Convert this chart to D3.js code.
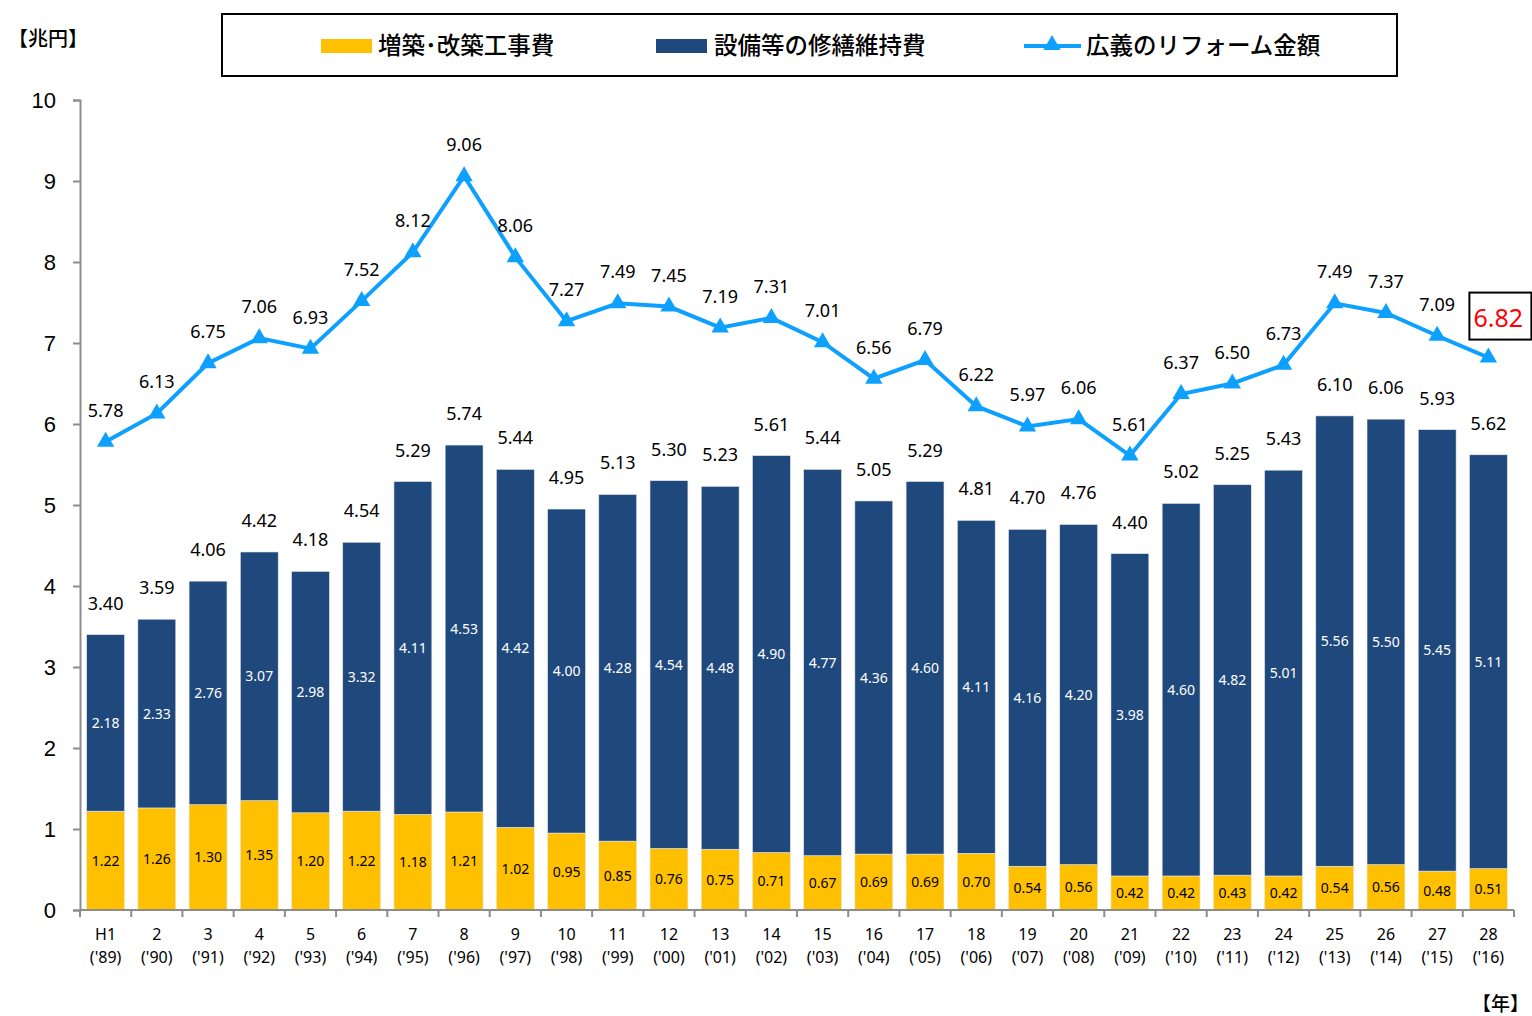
<!DOCTYPE html>
<html>
<head>
<meta charset="utf-8">
<script src="https://cdn.jsdelivr.net/npm/d3@7"></script>
<style>
  body { margin: 0; background: #fff; }
  svg { display: block; font-family: "Noto Sans", "Noto Sans CJK JP", sans-serif; }
  .jp { font-family: "Noto Sans CJK JP", sans-serif; }
</style>
</head>
<body>
<svg id="chart"></svg>
<script>
const years = ["H1", "2", "3", "4", "5", "6", "7", "8", "9", "10", "11", "12", "13", "14",
  "15", "16", "17", "18", "19", "20", "21", "22", "23", "24", "25", "26", "27", "28"];
const westernYears = ["'89", "'90", "'91", "'92", "'93", "'94", "'95", "'96", "'97", "'98", "'99",
  "'00", "'01", "'02", "'03", "'04", "'05", "'06", "'07", "'08", "'09", "'10", "'11", "'12",
  "'13", "'14", "'15", "'16"];
const extension = [1.22, 1.26, 1.30, 1.35, 1.20, 1.22, 1.18, 1.21, 1.02, 0.95, 0.85, 0.76, 0.75, 0.71,
  0.67, 0.69, 0.69, 0.70, 0.54, 0.56, 0.42, 0.42, 0.43, 0.42, 0.54, 0.56, 0.48, 0.51];
const maintenance = [2.18, 2.33, 2.76, 3.07, 2.98, 3.32, 4.11, 4.53, 4.42, 4.00, 4.28, 4.54, 4.48, 4.90,
  4.77, 4.36, 4.60, 4.11, 4.16, 4.20, 3.98, 4.60, 4.82, 5.01, 5.56, 5.50, 5.45, 5.11];
const totals = [3.40, 3.59, 4.06, 4.42, 4.18, 4.54, 5.29, 5.74, 5.44, 4.95, 5.13, 5.30, 5.23, 5.61,
  5.44, 5.05, 5.29, 4.81, 4.70, 4.76, 4.40, 5.02, 5.25, 5.43, 6.10, 6.06, 5.93, 5.62];
const broadReform = [5.78, 6.13, 6.75, 7.06, 6.93, 7.52, 8.12, 9.06, 8.06, 7.27, 7.49, 7.45, 7.19, 7.31,
  7.01, 6.56, 6.79, 6.22, 5.97, 6.06, 5.61, 6.37, 6.50, 6.73, 7.49, 7.37, 7.09, 6.82];
const yTicks = [0, 1, 2, 3, 4, 5, 6, 7, 8, 9, 10];
const seriesNames = ["増築･改築工事費", "設備等の修繕維持費", "広義のリフォーム金額"];

const width = 1532, height = 1016;
const margin = { top: 100, right: 18, bottom: 106, left: 80 };
const yellow = "#FFC000", navy = "#1F497D", lineBlue = "#0EA0FF";

const svg = d3.select("#chart").attr("width", width).attr("height", height);

const x = d3.scaleBand()
  .domain(years)
  .range([margin.left, width - margin.right])
  .paddingInner(0.26)
  .paddingOuter(0.13);
const y = d3.scaleLinear().domain([0, 10]).range([height - margin.bottom, margin.top]);

const rows = years.map((yr, i) => ({
  yr, w: westernYears[i], ext: extension[i], mnt: maintenance[i], total: totals[i], broad: broadReform[i]
}));

// axes
const yAxis = d3.axisLeft(y).tickValues(yTicks).tickSize(7).tickFormat(d3.format("d"));
svg.append("g")
  .attr("transform", `translate(${margin.left},0)`)
  .call(yAxis)
  .call(g => g.select(".domain").attr("stroke", "#8c8c8c").attr("stroke-width", 2))
  .call(g => g.selectAll(".tick line").attr("stroke", "#8c8c8c").attr("stroke-width", 2))
  .call(g => g.selectAll(".tick text").attr("font-size", 22).attr("fill", "#000").attr("x", -24));

// bars
const bars = svg.append("g");
bars.selectAll(".ext").data(rows).join("rect")
  .attr("x", d => x(d.yr)).attr("width", x.bandwidth())
  .attr("y", d => y(d.ext)).attr("height", d => y(0) - y(d.ext))
  .attr("fill", yellow).attr("stroke", "#e8e8e8").attr("stroke-width", 0.6);
bars.selectAll(".mnt").data(rows).join("rect")
  .attr("x", d => x(d.yr)).attr("width", x.bandwidth())
  .attr("y", d => y(d.total)).attr("height", d => y(d.ext) - y(d.total))
  .attr("fill", navy).attr("stroke", "#e8e8e8").attr("stroke-width", 0.6);

// x axis with ticks between categories
const xAxisG = svg.append("g").attr("transform", `translate(0,${y(0)})`);
const step = x.step();
xAxisG.append("line")
  .attr("x1", margin.left).attr("x2", width - margin.right)
  .attr("stroke", "#8c8c8c").attr("stroke-width", 2);
xAxisG.selectAll(".xt").data(d3.range(years.length + 1)).join("line")
  .attr("x1", i => margin.left + i * step).attr("x2", i => margin.left + i * step)
  .attr("y1", 0).attr("y2", 7)
  .attr("stroke", "#8c8c8c").attr("stroke-width", 2);
const xl = xAxisG.selectAll(".xl").data(rows).join("text")
  .attr("text-anchor", "middle").attr("font-size", 16).attr("fill", "#000");
xl.append("tspan").attr("x", d => x(d.yr) + x.bandwidth() / 2).attr("y", 30).text(d => d.yr);
xl.append("tspan").attr("x", d => x(d.yr) + x.bandwidth() / 2).attr("y", 53).text(d => `(${d.w})`);

// labels inside bars
const fmt = d3.format(".2f");
const cx = d => x(d.yr) + x.bandwidth() / 2;
svg.append("g").selectAll("text").data(rows).join("text")
  .attr("x", cx).attr("y", d => (y(0) + y(d.ext)) / 2 + 5)
  .attr("text-anchor", "middle").attr("font-size", 14).attr("fill", "#000")
  .text(d => fmt(d.ext));
svg.append("g").selectAll("text").data(rows).join("text")
  .attr("x", cx).attr("y", d => (y(d.ext) + y(d.total)) / 2 + 5)
  .attr("text-anchor", "middle").attr("font-size", 14).attr("fill", "#fff")
  .text(d => fmt(d.mnt));
svg.append("g").selectAll("text").data(rows).join("text")
  .attr("x", cx).attr("y", d => y(d.total) - 25)
  .attr("text-anchor", "middle").attr("font-size", 18).attr("fill", "#000")
  .text(d => fmt(d.total));

// line
const line = d3.line().x(cx).y(d => y(d.broad));
svg.append("path").datum(rows)
  .attr("d", line).attr("fill", "none")
  .attr("stroke", lineBlue).attr("stroke-width", 4);
const tri = d3.symbol().type(d3.symbolTriangle).size(130);
svg.append("g").selectAll("path").data(rows).join("path")
  .attr("transform", d => `translate(${cx(d)},${y(d.broad)})`)
  .attr("d", tri).attr("fill", lineBlue);

const last = rows.length - 1;
svg.append("g").selectAll("text").data(rows.slice(0, last)).join("text")
  .attr("x", cx).attr("y", d => y(d.broad) - 25)
  .attr("text-anchor", "middle").attr("font-size", 18).attr("fill", "#000")
  .text(d => fmt(d.broad));

// highlighted latest value
const lastD = rows[last];
const lb = svg.append("g").attr("transform", `translate(${cx(lastD) - 19},${y(lastD.broad) - 41})`);
lb.append("rect").attr("x", 0).attr("y", -24).attr("width", 62).attr("height", 47)
  .attr("fill", "#fff").attr("stroke", "#000").attr("stroke-width", 2);
lb.append("text").attr("x", 4).attr("y", 10).attr("font-size", 25).attr("fill", "#FF0000")
  .text(fmt(lastD.broad));

// unit labels
svg.append("text").attr("class", "jp").attr("x", 8).attr("y", 46)
  .attr("font-size", 20).attr("font-weight", 500).attr("fill", "#000").text("【兆円】");
svg.append("text").attr("class", "jp").attr("x", 1472).attr("y", 1011)
  .attr("font-size", 19).attr("font-weight", 500).attr("fill", "#000").text("【年】");

// legend
const legend = svg.append("g");
legend.append("rect").attr("x", 222).attr("y", 14).attr("width", 1175).attr("height", 62)
  .attr("fill", "#fff").attr("stroke", "#000").attr("stroke-width", 2);
legend.append("rect").attr("x", 321).attr("y", 39).attr("width", 51).attr("height", 14).attr("fill", yellow);
legend.append("rect").attr("x", 656).attr("y", 39).attr("width", 51).attr("height", 14).attr("fill", navy);
legend.append("line").attr("x1", 1024).attr("x2", 1081).attr("y1", 46).attr("y2", 46)
  .attr("stroke", lineBlue).attr("stroke-width", 4);
legend.append("path").attr("transform", "translate(1052,45)").attr("d", tri).attr("fill", lineBlue);
[[378, seriesNames[0]], [714, seriesNames[1]], [1086, seriesNames[2]]].forEach(([lx, t]) =>
  legend.append("text").attr("class", "jp").attr("x", lx).attr("y", 54)
    .attr("font-size", 23.5).attr("font-weight", 500).attr("fill", "#000").text(t));
</script>
</body>
</html>
